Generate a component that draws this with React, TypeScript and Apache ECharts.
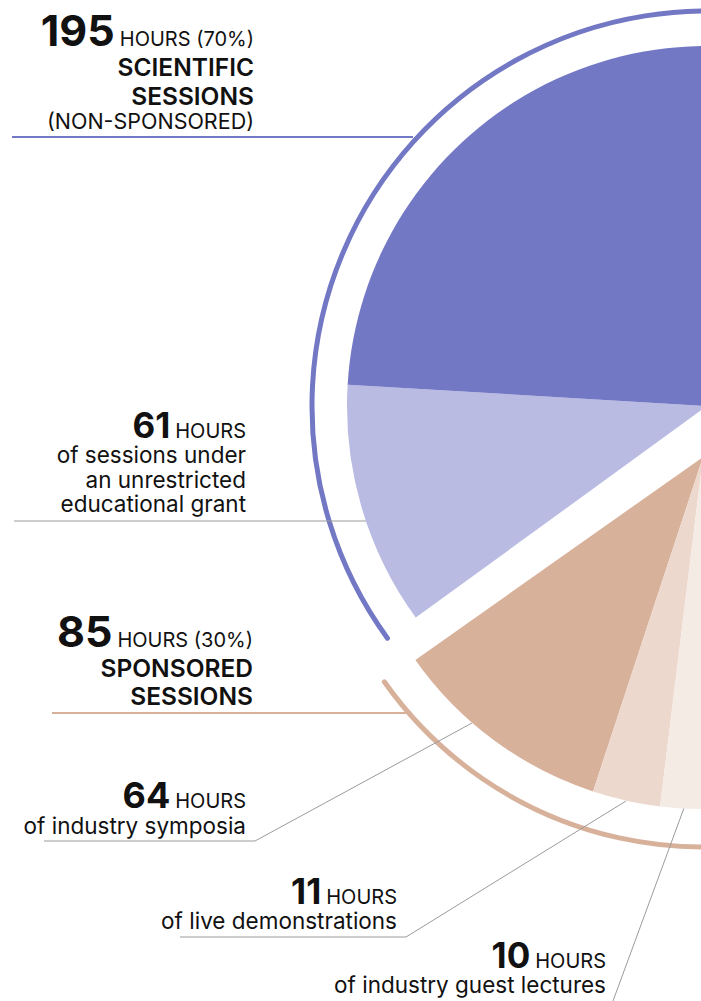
import React, { useEffect, useRef } from "react";
import * as echarts from "echarts";

const FONT = "Inter, 'Noto Sans', sans-serif";

// Slices (inner pie)
const sliceNames = [
  "Scientific sessions (non-sponsored)",
  "Sessions under an unrestricted educational grant",
  "Industry symposia",
  "Live demonstrations",
  "Industry guest lectures",
];
const sliceHours = [195, 61, 64, 11, 10];
const sliceColors = ["#7378c5", "#b9bbe2", "#d8b19b", "#ecd8cd", "#f5ebe5"];
// arc of each slice as drawn in the graphic (degrees)
const sliceArcDeg = [116.6, 39.4, 36.6, 11.2, 27];

// Groups
const groupHours = [195, 85];
const groupShare = ["70%", "30%"];
const groupColors = ["#7378c5", "#d8b19b"];

const measureCtx = typeof document !== "undefined" ? document.createElement("canvas").getContext("2d") : null;
function tw(text: string, size: number, weight: number | string) {
  if (!measureCtx) return text.length * size * 0.55;
  measureCtx.font = `${weight} ${size}px ${FONT}`;
  return measureCtx.measureText(text).width;
}

function txt(x: number, base: number, text: string, size: number, weight: number | string, lh = 1, color = "#111") {
  return {
    type: "text",
    x,
    y: base - 0.363 * size,
    silent: true,
    style: {
      text,
      fontSize: size,
      fontWeight: weight,
      fontFamily: FONT,
      lineHeight: Math.round(size * lh),
      fill: color,
      align: "right",
      textAlign: "right",
      verticalAlign: "middle",
      textVerticalAlign: "middle",
    },
  };
}

function numLine(right: number, base: number, num: string, numSize: number, rest: string, restSize: number) {
  const w = tw(rest, restSize, 400);
  return [
    txt(right - w - 5, base, num, numSize, 700, 0.8),
    txt(right, base, rest, restSize, 400, 0.9),
  ];
}

function leader(points: number[][], color: string, width: number) {
  return {
    type: "polyline",
    silent: true,
    shape: { points },
    style: { stroke: color, lineWidth: width, fill: null },
  };
}

const deg = (d: number) => (d * Math.PI) / 180;

export default function App() {
  const ref = useRef<HTMLDivElement>(null);
  useEffect(() => {
    if (!ref.current) return;
    const chart = echarts.init(ref.current, null, { renderer: "svg" });
    const blueFill = 360 - sliceArcDeg[0] - sliceArcDeg[1];
    const tanFill = 360 - sliceArcDeg[2] - sliceArcDeg[3] - sliceArcDeg[4];
    const gray = "#9b9b9b";
    const REG = 22.5;
    const CAP = 24.5;

    const graphics: any[] = [
      // outer group arcs
      {
        type: "arc",
        silent: true,
        shape: { cx: 707, cy: 406, r: 395, startAngle: deg(144), endAngle: deg(300), clockwise: true },
        style: { stroke: groupColors[0], lineWidth: 5, lineCap: "round", fill: null },
      },
      {
        type: "arc",
        silent: true,
        shape: { cx: 703, cy: 457, r: 390, startAngle: deg(60), endAngle: deg(144.8), clockwise: true },
        style: { stroke: groupColors[1], lineWidth: 5, lineCap: "round", fill: null },
      },
      // leader lines
      leader([[12, 137], [413, 137]], groupColors[0], 2),
      leader([[14, 521], [366, 521]], gray, 1),
      leader([[52, 713], [406, 713]], groupColors[1], 2),
      leader([[44, 841], [255, 841], [472, 723]], gray, 1),
      leader([[180, 937], [406, 937], [626, 801]], gray, 1),
      leader([[613, 1001], [684, 808]], gray, 1),
      // label block 1
      ...numLine(254, 46, String(groupHours[0]), 43, `HOURS (${groupShare[0]})`, 20),
      txt(254, 76, "SCIENTIFIC", CAP, 600, 1),
      txt(254, 105, "SESSIONS", CAP, 600, 1),
      txt(254, 129, "(NON-SPONSORED)", 21.5, 400, 1),
      // block 2
      ...numLine(246, 438, String(sliceHours[1]), 35, "HOURS", 20),
      txt(246, 463, "of sessions under", REG, 400),
      txt(246, 488, "an unrestricted", REG, 400),
      txt(246, 512, "educational grant", REG, 400),
      // block 3
      ...numLine(253, 647, String(groupHours[1]), 43, `HOURS (${groupShare[1]})`, 20),
      txt(253, 677, "SPONSORED", CAP, 600, 1),
      txt(253, 705, "SESSIONS", CAP, 600, 1),
      // block 4
      ...numLine(246, 808, String(sliceHours[2]), 36, "HOURS", 20),
      txt(246, 834, "of industry symposia", REG, 400),
      // block 5
      ...numLine(397, 904, String(sliceHours[3]), 35, "HOURS", 20),
      txt(397, 929, "of live demonstrations", REG, 400),
      // block 6
      ...numLine(606, 968, String(sliceHours[4]), 35, "HOURS", 20),
      txt(606, 993, "of industry guest lectures", REG, 400),
    ];

    chart.setOption({
      animation: false,
      graphic: graphics,
      series: [
        {
          type: "pie",
          silent: true,
          center: [707, 406],
          radius: 360,
          startAngle: 216,
          clockwise: true,
          label: { show: false },
          labelLine: { show: false },
          emphasis: { disabled: true },
          data: [
            { name: sliceNames[1], value: sliceArcDeg[1], itemStyle: { color: sliceColors[1] } },
            { name: sliceNames[0], value: sliceArcDeg[0], itemStyle: { color: sliceColors[0] } },
            { name: "rest", value: blueFill, itemStyle: { color: "rgba(0,0,0,0)" } },
          ],
        },
        {
          type: "pie",
          silent: true,
          center: [703, 457],
          radius: 352,
          startAngle: 215.2,
          clockwise: false,
          label: { show: false },
          labelLine: { show: false },
          emphasis: { disabled: true },
          data: [
            { name: sliceNames[2], value: sliceArcDeg[2], itemStyle: { color: sliceColors[2] } },
            { name: sliceNames[3], value: sliceArcDeg[3], itemStyle: { color: sliceColors[3] } },
            { name: sliceNames[4], value: sliceArcDeg[4], itemStyle: { color: sliceColors[4] } },
            { name: "rest", value: tanFill, itemStyle: { color: "rgba(0,0,0,0)" } },
          ],
        },
      ],
    });
    return () => chart.dispose();
  }, []);
  return (
    <div
      ref={ref}
      style={{ position: "fixed", left: 0, top: 0, width: 701, height: 1001, background: "#fff" }}
    />
  );
}
